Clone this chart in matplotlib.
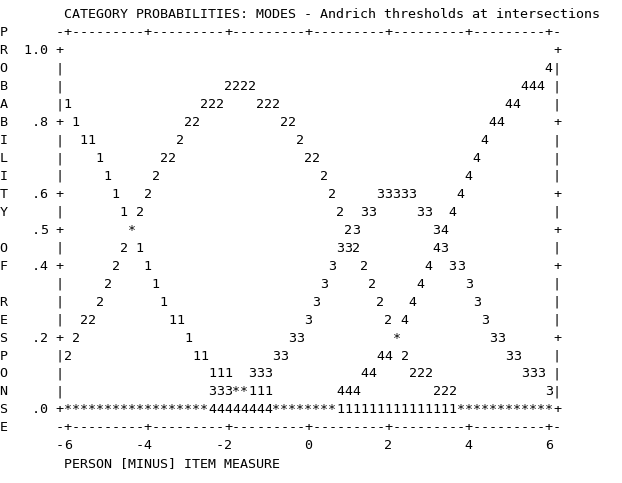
import matplotlib
matplotlib.use("Agg")
import matplotlib.pyplot as plt

# ---------------- data (character-grid chart, Winsteps style) ----------------
title = "CATEGORY PROBABILITIES: MODES - Andrich thresholds at intersections"
x_label = "PERSON [MINUS] ITEM MEASURE"
side_label = "PROBABILITY OF RESPONSE"          # one letter per grid row 0..22
x_tick_values = [-6, -4, -2, 0, 2, 4, 6]
x_tick_labels = ["-6", "-4", "-2", "0", "2", "4", "6"]
y_tick_rows = [1, 5, 9, 11, 13, 17, 21]
y_tick_labels = ["1.0", ".8", ".6", ".5", ".4", ".2", ".0"]

# plotted symbols per row: (row, column, symbols)
cat_rows = [2, 3, 3, 4, 4, 4, 4, 5, 5, 5, 5, 6, 6, 6, 6, 7, 7, 7, 7, 8, 8, 8, 8,
            9, 9, 9, 9, 9, 10, 10, 10, 10, 10, 10, 11, 11, 11,
            12, 12, 12, 12, 13, 13, 13, 13, 13, 13, 14, 14, 14, 14, 14, 14,
            15, 15, 15, 15, 15, 15, 16, 16, 16, 16, 16, 16,
            17, 17, 17, 17, 17, 18, 18, 18, 18, 18, 18,
            19, 19, 19, 19, 19, 20, 20, 20, 20,
            21, 21, 21, 21, 21]
cat_cols = [68, 28, 65, 8, 25, 32, 63, 9, 23, 35, 61, 10, 22, 37, 60, 12, 20, 38, 59, 13, 19, 40, 58,
            14, 18, 41, 47, 57, 15, 17, 42, 45, 52, 56, 16, 43, 54,
            15, 17, 42, 54, 14, 18, 41, 45, 53, 56, 13, 19, 40, 46, 52, 58,
            12, 20, 39, 47, 51, 59, 10, 21, 38, 48, 50, 60,
            9, 23, 36, 49, 61, 8, 24, 34, 47, 50, 63,
            26, 31, 45, 51, 65, 26, 42, 54, 68,
            8, 26, 34, 42, 57]
cat_syms = ["4", "2222", "444", "1", "222", "222", "44", "1", "22", "22", "44",
            "11", "2", "2", "4", "1", "22", "22", "4", "1", "2", "2", "4",
            "1", "2", "2", "33333", "4", "1", "2", "2", "33", "33", "4", "*", "23", "34",
            "2", "1", "332", "43", "2", "1", "3", "2", "4", "33", "2", "1", "3", "2", "4", "3",
            "2", "1", "3", "2", "4", "3", "22", "11", "3", "2", "4", "3",
            "2", "1", "33", "*", "33", "2", "11", "33", "44", "2", "33",
            "111", "333", "44", "222", "333", "333**111", "444", "222", "3",
            "*" * 18, "44444444", "*" * 8, "1" * 15, "*" * 12]

# ---------------- layout ----------------
X0, CW = 3.5, 8.02          # pixel centre of column 0, column width
Y0, RH = 36.4, 17.95        # pixel baseline of row 0, row height
W, H = 622, 483
FONT = dict(family="DejaVu Sans Mono", fontsize=9.6, color="black")

fig = plt.figure(figsize=(W / 100, H / 100), dpi=100)
ax = fig.add_axes([0, 0, 1, 1])
ax.set_xlim(-X0 / CW, (W - X0) / CW)
ax.set_ylim((H - Y0) / RH, -Y0 / RH)
ax.axis("off")

LEFT, RIGHT = 7, 69         # frame columns
TOP, BOTTOM = 0, 22         # frame rows


def put(col, row, s):
    for i, ch in enumerate(s):
        if ch != " ":
            ax.text(col + i, row, ch, ha="center", va="baseline", **FONT)


def col_of(v):
    return 38 + v * 5


# title and axis label as whole strings
ax.text(8 - 0.5, -1, title, ha="left", va="baseline", **FONT)
ax.text(8 - 0.5, 24, x_label, ha="left", va="baseline", **FONT)

# side label letters
for r, ch in enumerate(side_label):
    if ch != " ":
        put(0, r, ch)

# horizontal frame lines (top and bottom)
for row in (TOP, BOTTOM):
    put(LEFT, row, "-")
    put(RIGHT, row, "-")
    for c in range(LEFT + 1, RIGHT):
        put(c, row, "-" if (c - 8) % 10 else "+")

# vertical frame
for row in range(TOP + 1, BOTTOM):
    ch = "+" if row in y_tick_rows else "|"
    put(LEFT, row, ch)
    put(RIGHT, row, ch)

# y tick labels (right aligned ending at column 5)
for row, lab in zip(y_tick_rows, y_tick_labels):
    put(6 - len(lab), row, lab)

# x tick labels (last char under tick)
for v, lab in zip(x_tick_values, x_tick_labels):
    put(col_of(v) - len(lab) + 1, 23, lab)

# category curves
for r, c, s in zip(cat_rows, cat_cols, cat_syms):
    put(c, r, s)

fig.savefig("out.png", dpi=100, facecolor="white")
